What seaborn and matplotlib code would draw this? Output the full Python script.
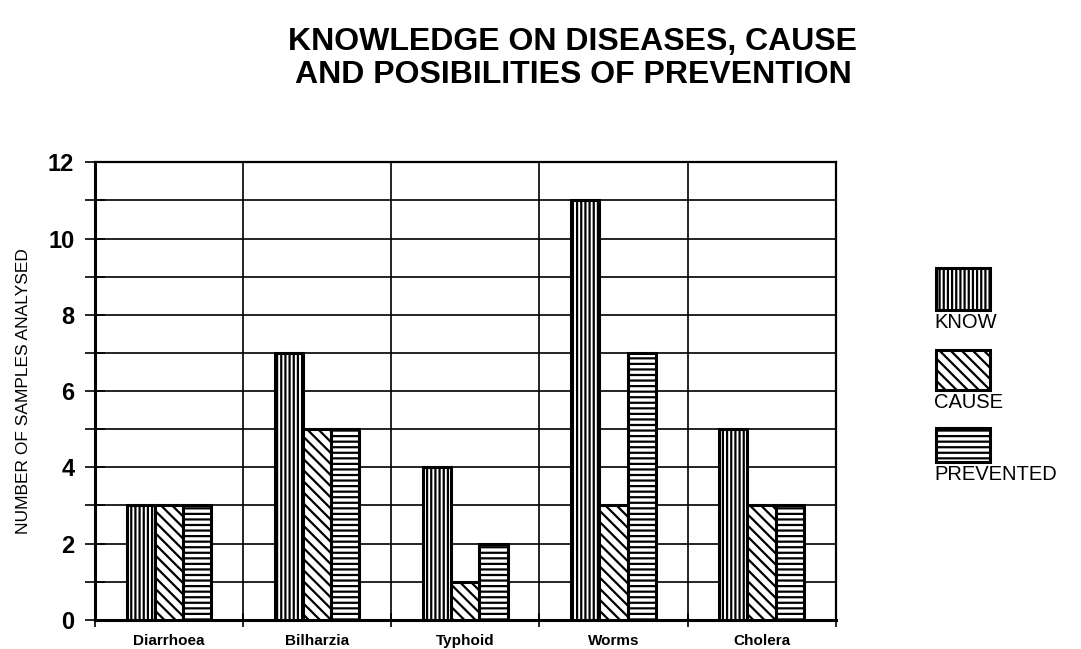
import matplotlib
matplotlib.use("Agg")
import matplotlib.pyplot as plt
from matplotlib.patches import Rectangle
from matplotlib.ticker import MultipleLocator, FixedLocator
import pandas as pd
import seaborn as sns

diseases = ["Diarrhoea", "Bilharzia", "Typhoid", "Worms", "Cholera"]
know = [3, 7, 4, 11, 5]
cause = [3, 5, 1, 3, 3]
prevented = [3, 5, 2, 7, 3]
series_names = ["KNOW", "CAUSE", "PREVENTED"]
hatches = ["||||", "\\\\\\", "---"]

df = pd.DataFrame({
    "disease": diseases * 3,
    "count": know + cause + prevented,
    "series": [s for s in series_names for _ in diseases],
})

sns.set_theme(style="white")
plt.rcParams["font.family"] = ["Liberation Sans", "DejaVu Sans"]
plt.rcParams.update({
    "hatch.linewidth": 1.6,
    "text.color": "black",
    "axes.labelcolor": "black",
    "xtick.color": "black",
    "ytick.color": "black",
})

fig = plt.figure(figsize=(10.81, 6.49), dpi=100)
ax = fig.add_axes([0.088, 0.045, 0.685, 0.705])

sns.barplot(data=df, x="disease", y="count", hue="series", order=diseases,
            hue_order=series_names, palette=["white"] * 3, edgecolor="black",
            linewidth=2.2, width=0.57, gap=0, legend=False, ax=ax, zorder=3)

for container, h in zip(ax.containers, hatches):
    for bar in container:
        bar.set_hatch(h)
        bar.set_edgecolor("black")

ax.set_xlim(-0.5, len(diseases) - 0.5)
ax.set_ylim(0, 12)
ax.yaxis.set_major_locator(MultipleLocator(2))
ax.yaxis.set_minor_locator(MultipleLocator(1))
ax.grid(True, which="both", axis="y", color="black", linewidth=1.2, zorder=0)

# category boundaries as vertical rules
ax.xaxis.set_minor_locator(FixedLocator([i + 0.5 for i in range(len(diseases) - 1)] + [-0.5, len(diseases) - 0.5]))
for i in range(len(diseases) - 1):
    ax.axvline(i + 0.5, color="black", linewidth=1.2, zorder=0)

for side in ["left", "bottom"]:
    ax.spines[side].set_color("black")
    ax.spines[side].set_linewidth(2.2)
for side in ["top", "right"]:
    ax.spines[side].set_color("black")
    ax.spines[side].set_linewidth(1.6)

ax.tick_params(axis="y", which="both", direction="inout", length=14, width=1.2,
               left=True, labelsize=17, pad=8)
ax.tick_params(axis="x", which="major", length=0, labelsize=11, pad=10)
ax.tick_params(axis="x", which="minor", direction="inout", length=10, width=1.2, bottom=True)
for lbl in ax.get_yticklabels():
    lbl.set_fontweight("bold")
for lbl in ax.get_xticklabels():
    lbl.set_fontweight("bold")

ax.set_xlabel("")
ax.set_ylabel("NUMBER OF SAMPLES ANALYSED", fontsize=12.5, labelpad=12)

fig.text(0.53, 0.91, "KNOWLEDGE ON DISEASES, CAUSE\nAND POSIBILITIES OF PREVENTION",
         ha="center", va="center", fontsize=23, fontweight="bold", linespacing=1.15)

# legend: swatch above each label
legend_boxes = [(0.522, 0.065), (0.399, 0.062), (0.288, 0.052)]
for name, h, (y, hgt) in zip(series_names, hatches, legend_boxes):
    fig.patches.append(Rectangle((0.866, y), 0.05, hgt, transform=fig.transFigure,
                                 facecolor="white", edgecolor="black", hatch=h,
                                 linewidth=2.2, figure=fig))
    fig.text(0.864, y - 0.004, name, ha="left", va="top", fontsize=14.5)

fig.savefig("out.png", dpi=100, facecolor="white")
